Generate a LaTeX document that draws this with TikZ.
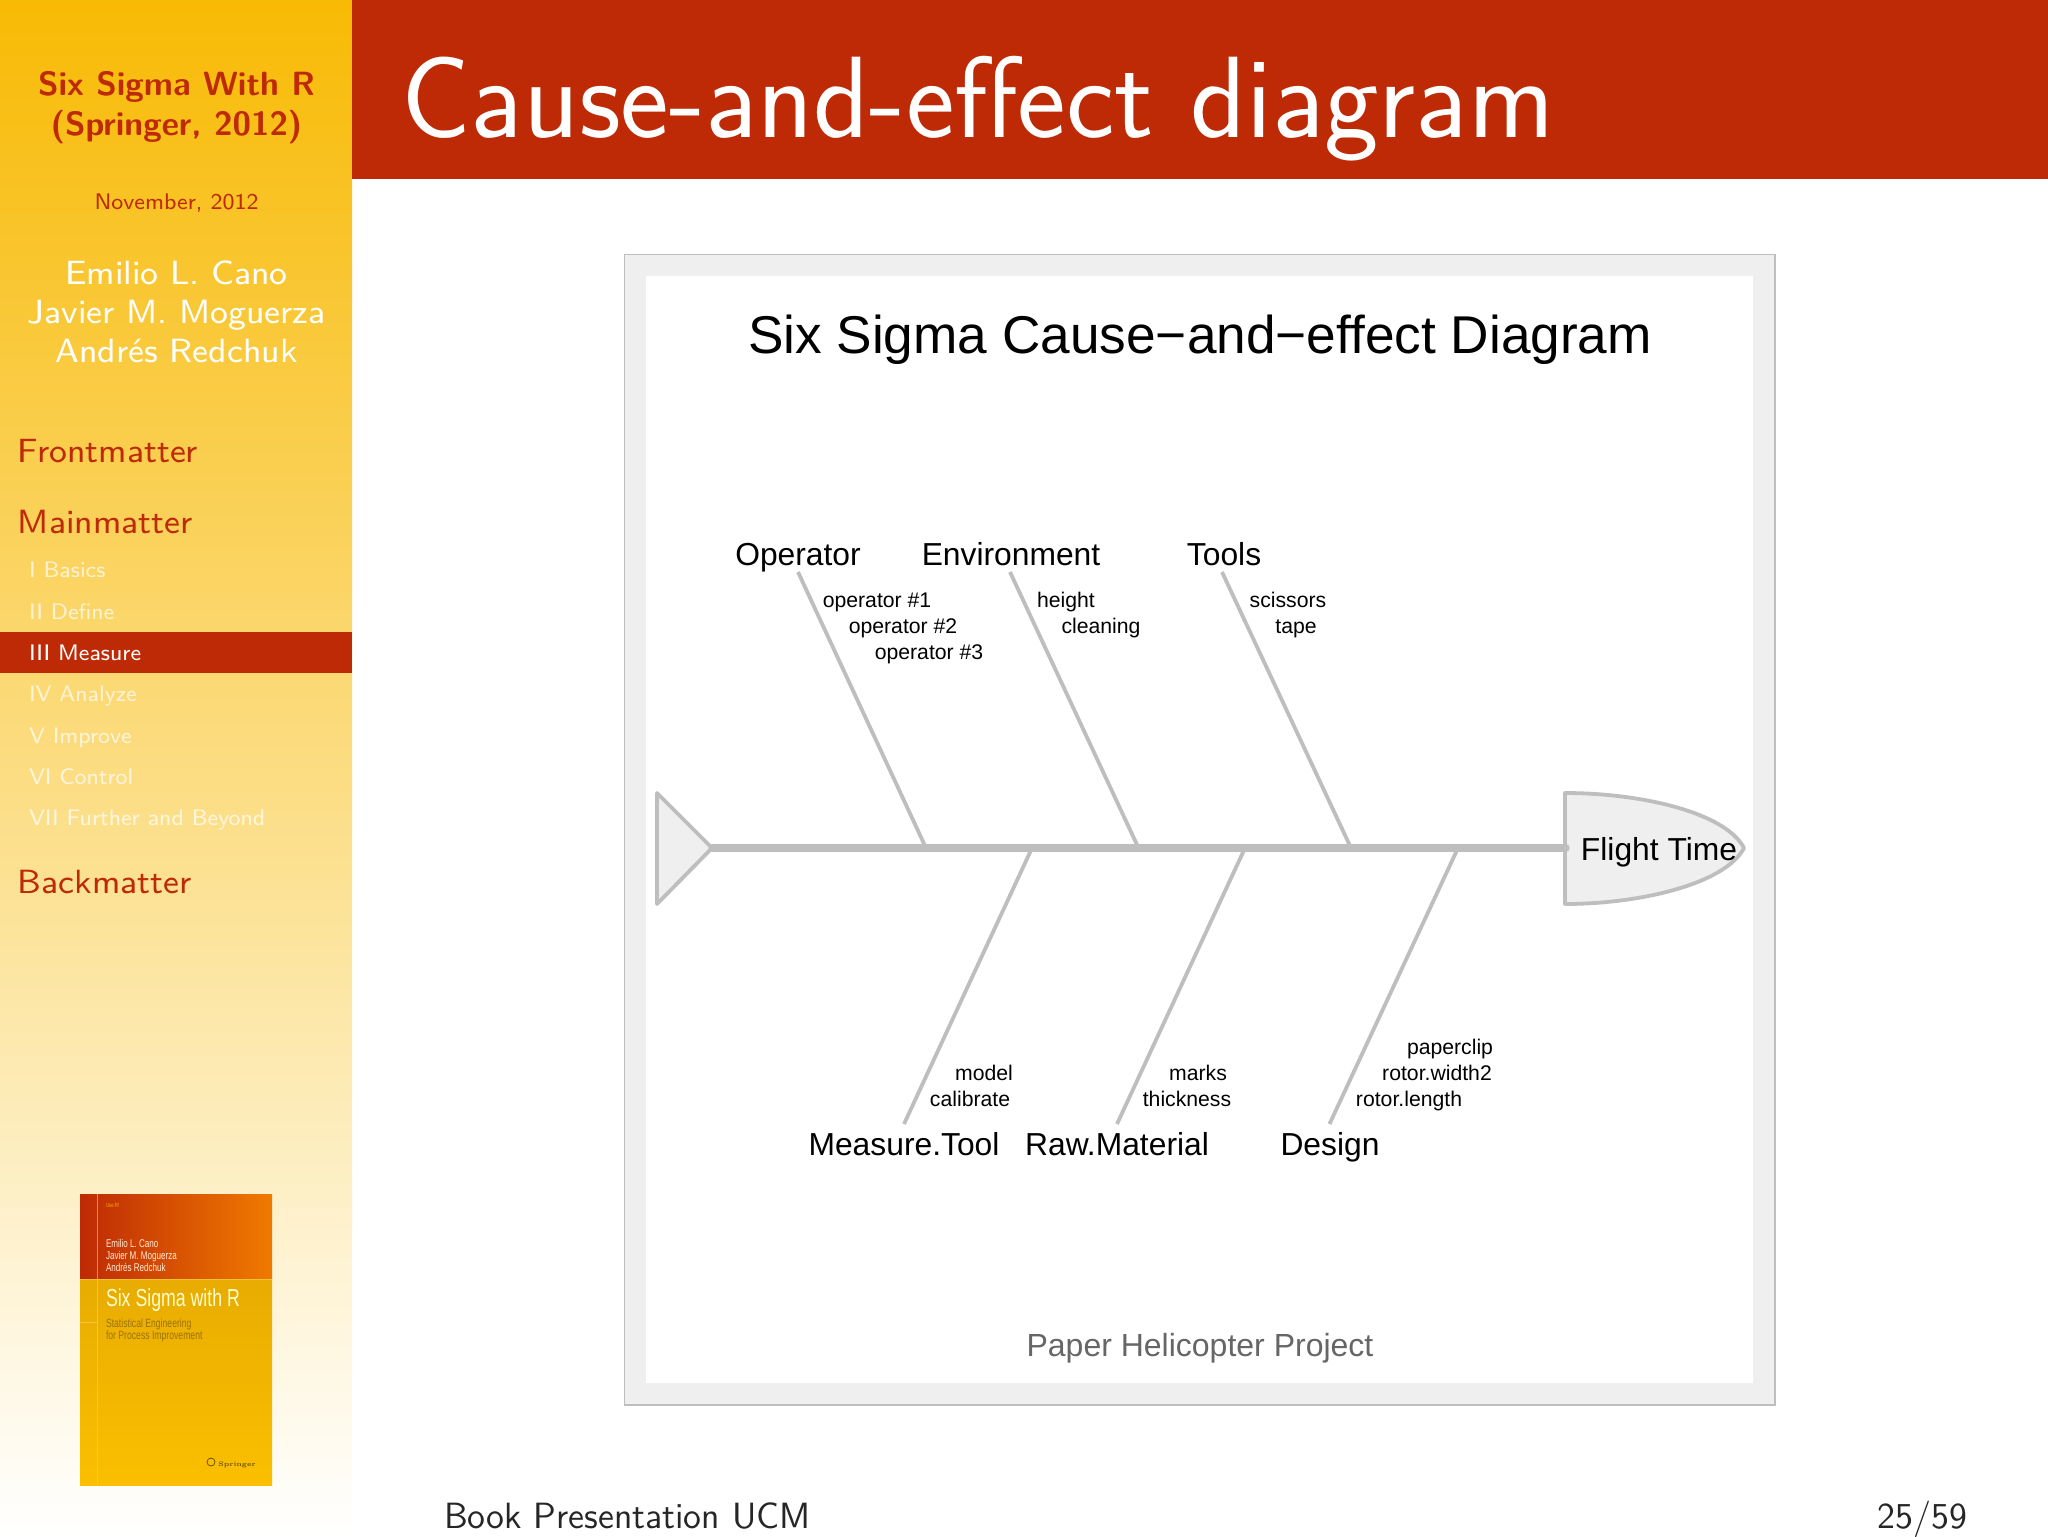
\documentclass[tikz,border=0pt]{standalone}
\usepackage{fontspec}
\newfontfamily\rfont{Liberation Sans}
\definecolor{barred}{HTML}{BE2A05}
\definecolor{sidetop}{HTML}{F8BA04}
\definecolor{fishgray}{HTML}{BEBEBE}
\definecolor{fishfill}{HTML}{EFEFEF}
\definecolor{subgray}{HTML}{666666}
\definecolor{coverorange}{HTML}{F07A00}
\definecolor{coverdark}{HTML}{E8AC02}
\definecolor{coverlight}{HTML}{FBBF00}
\definecolor{coverline}{HTML}{F8D060}
\definecolor{covertext}{HTML}{9A7208}
\tikzset{
 lm/.style={inner sep=0pt,outer sep=0pt,anchor=base west},
 sidehead/.style={lm,text=barred,scale=2.1,font=\fontsize{8}{9.6}\selectfont\sffamily},
 sideitem/.style={lm,text=white,text opacity=.72,scale=1.7,font=\fontsize{6.6}{8}\selectfont\sffamily},
 sidecen/.style={inner sep=0pt,outer sep=0pt,anchor=base},
 sideauthor/.style={sidecen,text=white,scale=2.1,font=\fontsize{8}{9.6}\selectfont\sffamily},
 sidetitle/.style={sidecen,text=barred,scale=2.1,font=\fontsize{8}{9.6}\selectfont\sffamily\bfseries},
 causelab/.style={inner sep=0pt,outer sep=0pt,anchor=base,text=black,font=\fontsize{10.6}{12}\selectfont\rfont},
 efflab/.style={inner sep=0pt,outer sep=0pt,anchor=base,text=black,font=\fontsize{15.9}{18}\selectfont\rfont},
 bone/.style={draw=fishgray,line width=1.9pt},
 spine/.style={draw=fishgray,line width=3.6pt,line cap=round},
 fishpart/.style={draw=fishgray,fill=fishfill,line width=1.9pt,line join=round},
 covertxt/.style={inner sep=0pt,outer sep=0pt,anchor=base west,xscale=.72,font=\rfont},
 coverwhite/.style={covertxt,text=white!85!orange,font=\fontsize{5.6}{6}\selectfont\rfont},
 coversub/.style={covertxt,text=covertext,font=\fontsize{6}{6}\selectfont\rfont},
 foot/.style={inner sep=0pt,outer sep=0pt,text=black!85,scale=1.66,font=\fontsize{11}{13}\selectfont\sffamily},
}
\begin{document}
\begin{tikzpicture}[x=0.5pt,y=-0.5pt]
\useasboundingbox (0,0) rectangle (2048,1536);
\fill[white] (0,0) rectangle (2048,1536);
% sidebar
\shade[top color=sidetop,bottom color=white] (0,0) rectangle (352,1536);
\fill[barred] (352,0) rectangle (2048,179);
\fill[barred] (0,632) rectangle (352,673);
% title
\node[inner sep=0pt,anchor=base west,text=white,scale=3.35,font=\fontsize{17.28}{20}\selectfont\sffamily] (title) at (400,137) {Cause-and-effect diagram};
% sidebar text
\node[sidetitle] (st1) at (176.5,96) {Six Sigma With R};
\node[sidetitle] (st2) at (176.5,135) {(Springer, 2012)};
\node[sidecen,text=barred,scale=1.61,font=\fontsize{7}{8.4}\selectfont\sffamily] (sd) at (176.5,209) {November, 2012};
\node[sideauthor] (sa1) at (176.5,284) {Emilio L. Cano};
\node[sideauthor] (sa2) at (176.5,323) {Javier M. Moguerza};
\node[sideauthor] (sa3) at (176.5,362) {Andrés Redchuk};
\node[sidehead] (h1) at (18,462) {Frontmatter};
\node[sidehead] (h2) at (18,533) {Mainmatter};
\node[sidehead] (h3) at (18,893) {Backmatter};
\node[sideitem] (i1) at (29,577) {I Basics};
\node[sideitem] (i2) at (29,619) {II Define};
\node[sideitem,text opacity=1] (i3) at (29,660) {III Measure};
\node[sideitem] (i4) at (29,701.5) {IV Analyze};
\node[sideitem] (i5) at (29,743) {V Improve};
\node[sideitem] (i6) at (29,784) {VI Control};
\node[sideitem] (i7) at (29,825.5) {VII Further and Beyond};
% book cover
\shade[left color=barred,right color=coverorange] (80,1194) rectangle (272,1279);
\shade[top color=coverdark,bottom color=coverlight] (80,1279) rectangle (272,1485);
\draw[coverline,line width=.5pt,opacity=.6] (97,1194) -- (97,1485) (80,1279) -- (272,1279) (80,1322) -- (97,1322);
\node[covertxt,text=coverorange!60!yellow,font=\fontsize{3}{3}\selectfont\rfont] (c0) at (106,1207) {Use R!};
\node[coverwhite] (c1) at (106,1247) {Emilio L. Cano};
\node[coverwhite] (c2) at (106,1259) {Javier M. Moguerza};
\node[coverwhite] (c3) at (106,1271) {Andrés Redchuk};
\node[covertxt,text=white!80!yellow,font=\fontsize{12.3}{14}\selectfont\rfont] (c4) at (106,1306) {Six Sigma with R};
\node[coversub] (c5) at (106,1327) {Statistical Engineering};
\node[coversub] (c6) at (106,1339) {for Process Improvement};
\draw[covertext!70!black,line width=.4pt] (211,1462) circle (4);
\node[inner sep=0pt,anchor=base west,text=covertext!70!black,font=\fontsize{3.3}{4}\selectfont\bfseries] (c7) at (218,1466) {Springer};
% figure frame
\draw[draw=fishgray,fill=fishfill,line width=.8pt] (624.5,254.5) rectangle (1775,1405);
\fill[white] (646,276) rectangle (1753,1383);
\node[sidecen,text=black,font=\fontsize{26.6}{30}\selectfont\rfont] (ft) at (1200,353) {Six Sigma Cause−and−effect Diagram};
\node[sidecen,text=subgray,font=\fontsize{16}{18}\selectfont\rfont] (fs) at (1200,1356) {Paper Helicopter Project};
% fish
\coordinate (tl) at (657,793);\coordinate (tb) at (657,904);\coordinate (tip) at (712,848);
\coordinate (hl) at (1565,793);\coordinate (hb) at (1565,904);\coordinate (hp) at (1744,848);
\coordinate (hm) at (1566,848);
\draw[fishpart] (tl) -- (tip) -- (tb) -- cycle;
\draw[fishpart] (hl) .. controls (1640,793) and (1725,812) .. (hp) .. controls (1725,884) and (1640,904) .. (hb) -- cycle;
\draw[spine] (tip) -- (hm);
\coordinate (a1) at (798,572);\coordinate (a2) at (926,848);
\coordinate (b1) at (1010,572);\coordinate (b2) at (1138.5,848);
\coordinate (c1p) at (1222,572);\coordinate (c2p) at (1351,848);
\coordinate (d1) at (1032,848);\coordinate (d2) at (904,1124);
\coordinate (e1) at (1245,848);\coordinate (e2) at (1117,1124);
\coordinate (f1) at (1458,848);\coordinate (f2) at (1329.5,1124);
\draw[bone] (a1) -- (a2);\draw[bone] (b1) -- (b2);\draw[bone] (c1p) -- (c2p);
\draw[bone] (d1) -- (d2);\draw[bone] (e1) -- (e2);\draw[bone] (f1) -- (f2);
\node[efflab] (eOp) at (798,565) {Operator};
\node[efflab] (eEn) at (1011,565) {Environment};
\node[efflab] (eTo) at (1224,565) {Tools};
\node[efflab] (eMe) at (904,1155) {Measure.Tool};
\node[efflab] (eRa) at (1117,1155) {R\kern0pt a\kern0pt w.Material};
\node[efflab] (eDe) at (1330,1155) {Design};
\node[efflab] (eFl) at (1659,860) {Flight Time};
\node[causelab] (o1) at (877,607) {operator \#1};
\node[causelab] (o2) at (903,633) {operator \#2};
\node[causelab] (o3) at (929,659) {operator \#3};
\node[causelab] (en1) at (1066,607) {height};
\node[causelab] (en2) at (1101,633) {cleaning};
\node[causelab] (to1) at (1288,607) {scissors};
\node[causelab] (to2) at (1296,633) {tape};
\node[causelab] (me1) at (984,1080) {model};
\node[causelab] (me2) at (970,1106) {calibrate};
\node[causelab] (ra1) at (1198,1080) {marks};
\node[causelab] (ra2) at (1187,1106) {thickness};
\node[causelab] (de1) at (1450,1054) {paperclip};
\node[causelab] (de2) at (1437,1080) {rotor.width2};
\node[causelab] (de3) at (1409,1106) {rotor.length};
% footer
\node[foot,anchor=base west] (fl) at (444,1528) {Book Presentation UCM};
\node[foot,anchor=base east] (fr) at (1967,1528) {25/59};
\end{tikzpicture}
\end{document}
